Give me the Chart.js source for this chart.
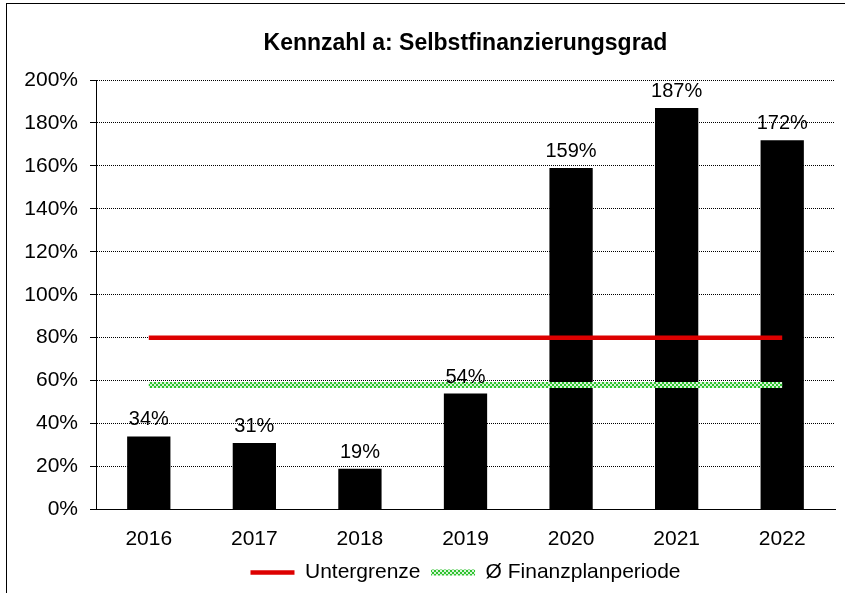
<!DOCTYPE html>
<html>
<head>
<meta charset="utf-8">
<script src="https://cdn.jsdelivr.net/npm/chart.js@4"></script>
<style>
  body { margin: 0; background: #fff; overflow: hidden; }
  #frame { position: absolute; left: 6px; top: 3px; width: 860px; height: 610px; border: 1.5px solid #000; box-sizing: border-box; }
  #wrap { position: absolute; left: 0; top: 0; width: 845px; height: 593px; }
</style>
</head>
<body>
<div id="frame"></div>
<div id="wrap"><canvas id="chart" width="845" height="593"></canvas></div>
<script>
const years = ['2016', '2017', '2018', '2019', '2020', '2021', '2022'];
// Selbstfinanzierungsgrad in percent
const grad = [34, 31, 19, 54, 159, 187, 172];
const untergrenze = [80, 80, 80, 80, 80, 80, 80];
const finanzplan = [58, 58, 58, 58, 58, 58, 58];
const yTicks = [0, 20, 40, 60, 80, 100, 120, 140, 160, 180, 200];

//checkered green pattern for the average line
function greenPattern() {
  const c = document.createElement('canvas');
  c.width = 4; c.height = 4;
  const g = c.getContext('2d');
  g.fillStyle = '#d8f5d8';
  g.fillRect(0, 0, 4, 4);
  g.fillStyle = '#2fc22f';
  g.fillRect(0, 0, 2, 2);
  g.fillRect(2, 2, 2, 2);
  return g.createPattern(c, 'repeat');
}
const pattern = greenPattern();

//value labels above the bars
const barLabels = {
  id: 'barLabels',
  afterDatasetsDraw(chart) {
    const ctx = chart.ctx;
    const meta = chart.getDatasetMeta(2);
    ctx.save();
    ctx.font = '20px "Liberation Sans", Arial, sans-serif';
    ctx.fillStyle = '#000';
    ctx.textAlign = 'center';
    ctx.textBaseline = 'alphabetic';
    meta.data.forEach((bar, i) => {
      ctx.fillText(grad[i] + '%', bar.x, bar.y - 11);
    });
    ctx.restore();
  }
};

Chart.defaults.font.family = '"Liberation Sans", Arial, sans-serif';
Chart.defaults.color = '#000';

new Chart(document.getElementById('chart'), {
  type: 'bar',
  plugins: [barLabels],
  data: {
    labels: years,
    datasets: [
      {
        type: 'line',
        label: 'Untergrenze',
        data: untergrenze,
        borderColor: '#dd0000',
        backgroundColor: '#dd0000',
        borderWidth: 4.5,
        pointRadius: 0,
        order: 1
      },
      {
        type: 'line',
        label: 'Ø Finanzplanperiode',
        data: finanzplan,
        borderColor: pattern,
        backgroundColor: pattern,
        borderWidth: 6,
        pointRadius: 0,
        order: 2
      },
      {
        label: 'Selbstfinanzierungsgrad',
        data: grad,
        backgroundColor: '#000',
        borderColor: '#000',
        barPercentage: 0.41,
        categoryPercentage: 1,
        order: 3
      }
    ]
  },
  options: {
    responsive: false,
    animation: false,
    layout: { padding: { left: 10, right: 10, top: 0, bottom: 0 } },
    plugins: {
      tooltip: { enabled: false },
      //title and legend centred over the plot area, not the whole canvas
      title: {
        display: true,
        fullSize: false,
        text: 'Kennzahl a: Selbstfinanzierungsgrad',
        font: { size: 23, weight: 'bold' },
        padding: { top: 30.2, bottom: 22.2 }
      },
      legend: {
        position: 'bottom',
        fullSize: false,
        labels: {
          filter: (item) => item.datasetIndex !== 2,
          usePointStyle: true,
          pointStyle: 'line',
          pointStyleWidth: 44,
          font: { size: 21 },
          padding: 10.5
        }
      }
    },
    scales: {
      x: {
        afterFit: (s) => { s.height = 42; },
        grid: { display: false, drawTicks: false },
        border: { color: '#000', width: 1 },
        ticks: { font: { size: 21 }, padding: 17 }
      },
      y: {
        min: 0,
        max: 200,
        afterFit: (s) => { s.width = 86; },
        afterBuildTicks: (s) => { s.ticks = yTicks.map(v => ({ value: v })); },
        border: { color: '#000', width: 1, dash: [1, 1] },
        grid: {
          color: '#000',
          lineWidth: 1,
          tickLength: 6,
          tickColor: '#000'
        },
        ticks: {
          font: { size: 21 },
          padding: 12,
          callback: (v) => v + '%'
        }
      }
    }
  }
});
</script>
</body>
</html>
